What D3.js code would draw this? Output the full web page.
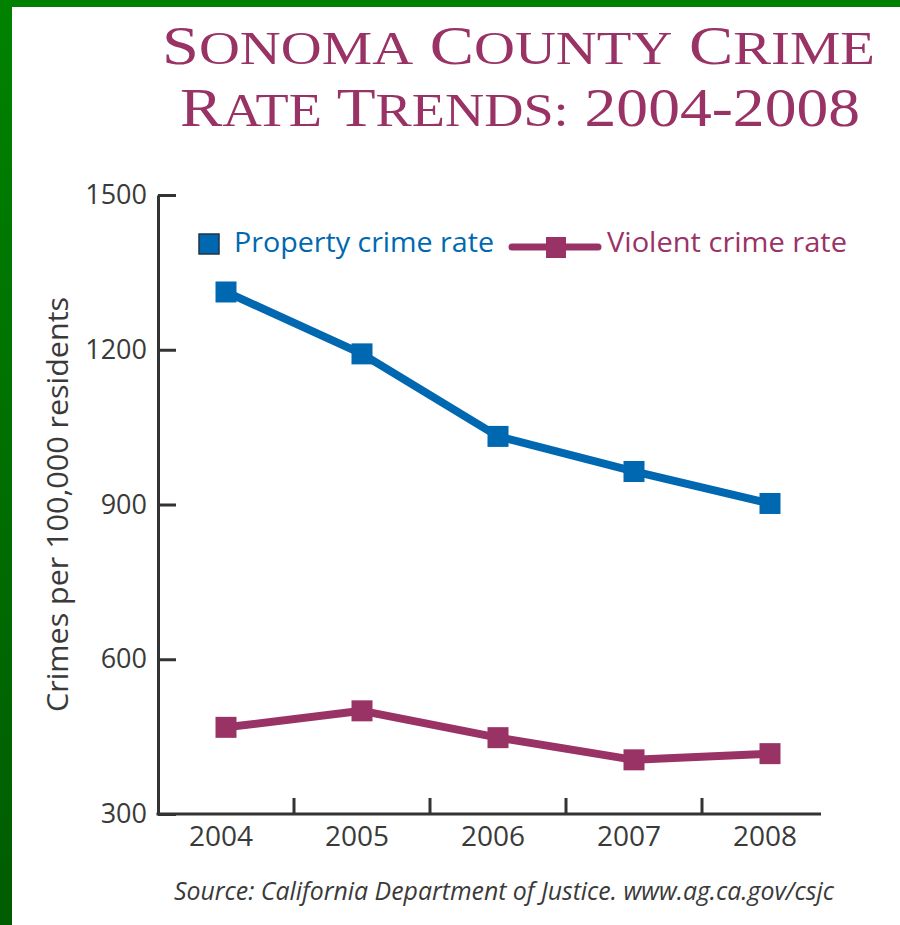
<!DOCTYPE html>
<html>
<head>
<meta charset="utf-8">
<script src="https://cdn.jsdelivr.net/npm/d3@7/dist/d3.min.js"></script>
<style>
  html, body { margin: 0; padding: 0; background: #ffffff; }
  svg { display: block; }
</style>
</head>
<body>
<svg id="chart" width="900" height="925"></svg>
<script>
// ---- data ----
const years = ["2004", "2005", "2006", "2007", "2008"];
const propertyRate = [1312, 1192, 1032, 964, 902];
const violentRate = [468, 500, 448, 405, 417];
const yTicks = [300, 600, 900, 1200, 1500];
const seriesNames = ["Property crime rate", "Violent crime rate"];
const titleLines = [["Sonoma", "County", "Crime"], ["Rate", "Trends:", "2004-2008"]];
const yLabel = "Crimes per 100,000 residents";
const sourceText = "Source: California Department of Justice. www.ag.ca.gov/csjc";

// ---- styles ----
const blue = "#0068b0";
const maroon = "#993366";
const axisColor = "#333333";
const textColor = "#3a3a3a";

const svg = d3.select("#chart");

// green frame
const defs = svg.append("defs");
const grad = defs.append("linearGradient").attr("id", "gframe")
  .attr("x1", 0).attr("y1", 0).attr("x2", 0).attr("y2", 1);
grad.append("stop").attr("offset", "0%").attr("stop-color", "#008200");
grad.append("stop").attr("offset", "100%").attr("stop-color", "#005c00");
svg.append("rect").attr("x", 0).attr("y", 0).attr("width", 900).attr("height", 7).attr("fill", "#008000");
svg.append("rect").attr("x", 0).attr("y", 0).attr("width", 12).attr("height", 925).attr("fill", "url(#gframe)");

// ---- title (small caps built from tspans) ----
const titleFont = "'Liberation Serif', 'DejaVu Serif', serif";
const titleBaselines = [64, 126];
const titleSpans = [[162, 875], [180, 860]];
titleLines.forEach((words, i) => {
  const t = svg.append("text")
    .attr("x", titleSpans[i][0]).attr("y", titleBaselines[i])
    .attr("fill", maroon)
    .attr("font-family", titleFont)
    .attr("textLength", titleSpans[i][1] - titleSpans[i][0])
    .attr("lengthAdjust", "spacingAndGlyphs");
  words.forEach((w, j) => {
    const first = w[0];
    const rest = w.slice(1);
    const isDigit = /[0-9]/.test(first);
    if (isDigit) {
      t.append("tspan").attr("font-size", 55).text((j > 0 ? " " : "") + w);
    } else {
      t.append("tspan").attr("font-size", 55).text((j > 0 ? " " : "") + first);
      t.append("tspan").attr("font-size", 47).text(rest.toUpperCase());
    }
  });
});

// ---- scales ----
const x = d3.scaleBand().domain(years).range([158, 838]).padding(0);
const y = d3.scaleLinear().domain([300, 1500]).range([814, 195]);
const cx = d => x(d) + x.bandwidth() / 2;

// ---- y axis ----
const yAxis = svg.append("g").attr("transform", `translate(${x.range()[0]},0)`)
  .call(d3.axisLeft(y).tickValues(yTicks).tickFormat(d3.format("d"))
    .tickSize(-18).tickSizeOuter(0).tickPadding(11));
yAxis.select(".domain").attr("stroke", axisColor).attr("stroke-width", 3);
yAxis.selectAll(".tick line").attr("stroke", axisColor).attr("stroke-width", 3);
yAxis.selectAll(".tick text")
  .attr("fill", textColor)
  .attr("font-family", "'Open Sans', sans-serif")
  .attr("font-size", 27);

// ---- x axis ----
const xAxis = svg.append("g").attr("transform", `translate(0,${y(300)})`)
  .call(d3.axisBottom(x).tickSize(0).tickPadding(12));
xAxis.select(".domain").remove();
xAxis.selectAll(".tick text")
  .attr("dx", -5)
  .attr("fill", textColor)
  .attr("font-family", "'Open Sans', sans-serif")
  .attr("font-size", 28);
// x axis line (ends a little short of last band edge)
svg.append("line")
  .attr("x1", x.range()[0] - 1.5).attr("x2", x(years[4]) + x.bandwidth() * 0.875)
  .attr("y1", y(300)).attr("y2", y(300))
  .attr("stroke", axisColor).attr("stroke-width", 3);
// tick marks between categories
svg.selectAll(".xsep").data(years.slice(0, -1)).join("line")
  .attr("class", "xsep")
  .attr("x1", d => x(d) + x.bandwidth()).attr("x2", d => x(d) + x.bandwidth())
  .attr("y1", y(300)).attr("y2", y(300) - 16)
  .attr("stroke", axisColor).attr("stroke-width", 3);

// y label
svg.append("text")
  .attr("transform", `translate(68,${(y(300) + y(1500)) / 2}) rotate(-90)`)
  .attr("text-anchor", "middle")
  .attr("fill", textColor)
  .attr("font-family", "'Open Sans', sans-serif")
  .attr("font-size", 29)
  .attr("textLength", 415)
  .attr("lengthAdjust", "spacingAndGlyphs")
  .text(yLabel);

// ---- series ----
const line = d3.line().x((d, i) => cx(years[i])).y(d => y(d));
const series = [
  { name: seriesNames[0], values: propertyRate, color: blue },
  { name: seriesNames[1], values: violentRate, color: maroon }
];
const ms = 21;
series.forEach(s => {
  svg.append("path").datum(s.values)
    .attr("d", line)
    .attr("fill", "none")
    .attr("stroke", s.color)
    .attr("stroke-width", 8)
    .attr("stroke-linejoin", "round");
  svg.selectAll(null).data(s.values).join("rect")
    .attr("x", (d, i) => cx(years[i]) - ms / 2)
    .attr("y", d => y(d) - ms / 2)
    .attr("width", ms).attr("height", ms)
    .attr("fill", s.color);
});

// ---- legend ----
const lg = svg.append("g");
lg.append("rect").attr("x", 199).attr("y", 234).attr("width", 20).attr("height", 20)
  .attr("fill", blue).attr("stroke", "#223344").attr("stroke-width", 1.5);
lg.append("text").attr("x", 234).attr("y", 252)
  .attr("fill", blue).attr("font-family", "'Open Sans', sans-serif").attr("font-size", 27)
  .attr("textLength", 260).attr("lengthAdjust", "spacingAndGlyphs")
  .text(seriesNames[0]);
lg.append("line").attr("x1", 512).attr("x2", 598).attr("y1", 247).attr("y2", 247)
  .attr("stroke", maroon).attr("stroke-width", 7).attr("stroke-linecap", "round");
lg.append("rect").attr("x", 546).attr("y", 237).attr("width", 20).attr("height", 21)
  .attr("fill", maroon);
lg.append("text").attr("x", 607).attr("y", 252)
  .attr("fill", maroon).attr("font-family", "'Open Sans', sans-serif").attr("font-size", 27)
  .attr("textLength", 240).attr("lengthAdjust", "spacingAndGlyphs")
  .text(seriesNames[1]);

// ---- source ----
svg.append("text").attr("x", 174).attr("y", 900)
  .attr("fill", textColor).attr("font-family", "'Open Sans', sans-serif")
  .attr("font-style", "italic").attr("font-size", 25)
  .attr("textLength", 660).attr("lengthAdjust", "spacingAndGlyphs")
  .text(sourceText);
</script>
</body>
</html>
